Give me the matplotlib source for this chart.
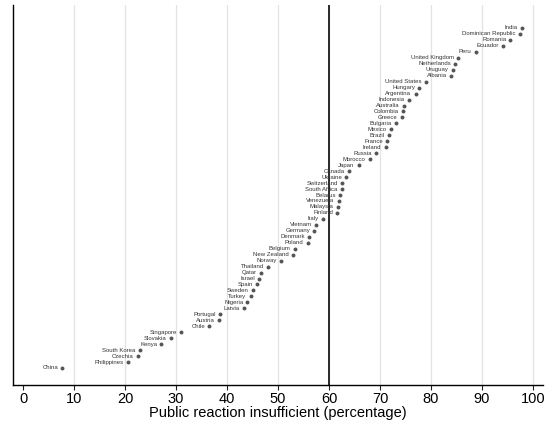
import matplotlib
matplotlib.use("Agg")
import matplotlib.pyplot as plt

countries = ["India", "Dominican Republic", "Romania", "Ecuador", "Peru", "United Kingdom",
             "Netherlands", "Uruguay", "Albania", "United States", "Hungary", "Argentina",
             "Indonesia", "Australia", "Colombia", "Greece", "Bulgaria", "Mexico", "Brazil",
             "France", "Ireland", "Russia", "Morocco", "Japan", "Canada", "Ukraine",
             "Switzerland", "South Africa", "Belarus", "Venezuela", "Malaysia", "Finland",
             "Italy", "Vietnam", "Germany", "Denmark", "Poland", "Belgium", "New Zealand",
             "Norway", "Thailand", "Qatar", "Israel", "Spain", "Sweden", "Turkey", "Nigeria",
             "Latvia", "Portugal", "Austria", "Chile", "Singapore", "Slovakia", "Kenya",
             "South Korea", "Czechia", "Philippines", "China"]
values = [97.8, 97.4, 95.6, 94.1, 88.8, 85.4,
          84.8, 84.3, 83.9, 79.0, 77.7, 77.0,
          75.7, 74.7, 74.5, 74.3, 73.1, 72.1, 71.8,
          71.4, 71.1, 69.2, 68.0, 65.8, 63.9, 63.4,
          62.6, 62.5, 62.2, 61.9, 61.7, 61.6,
          58.8, 57.5, 57.1, 56.1, 55.8, 53.3, 52.9,
          50.5, 48.1, 46.7, 46.3, 45.9, 45.0, 44.6, 44.0,
          43.3, 38.7, 38.4, 36.5, 31.0, 29.0, 27.1,
          22.9, 22.5, 20.6, 7.7]
threshold = 60
xticks = list(range(0, 101, 10))
xlabel = "Public reaction insufficient (percentage)"

plt.rcParams['font.family'] = ['Liberation Sans', 'DejaVu Sans']

fig = plt.figure(figsize=(5.51, 4.29), dpi=100)
ax = fig.add_axes([0.0236, 0.1026, 0.962, 0.8857])

n = len(countries)
ys = [n - i for i in range(n)]

for g in xticks[1:]:
    ax.axvline(g, color="#e3e3e3", lw=0.9, zorder=0)
ax.axvline(threshold, color="#1a1a1a", lw=1.3, zorder=1)

ax.scatter(values, ys, s=8, color="#555555", zorder=3, linewidths=0)
for name, v, y in zip(countries, values, ys):
    ax.annotate(name, (v, y), xytext=(-3, 0), textcoords="offset points",
                ha="right", va="center", fontsize=4.3, color="#333333")

ax.set_xlim(-2, 102)
ax.set_ylim(-1.85, 61.85)
ax.set_xticks(xticks)
ax.set_yticks([])
ax.tick_params(axis="x", length=3.5, width=0.8, labelsize=10.5, pad=1.5, color="#222222")
ax.set_xlabel(xlabel, fontsize=10.5, labelpad=0)
ax.spines["top"].set_visible(False)
ax.spines["right"].set_visible(False)
ax.spines["left"].set_linewidth(1.0)
ax.spines["bottom"].set_linewidth(1.0)

fig.savefig("out.png", dpi=100)
